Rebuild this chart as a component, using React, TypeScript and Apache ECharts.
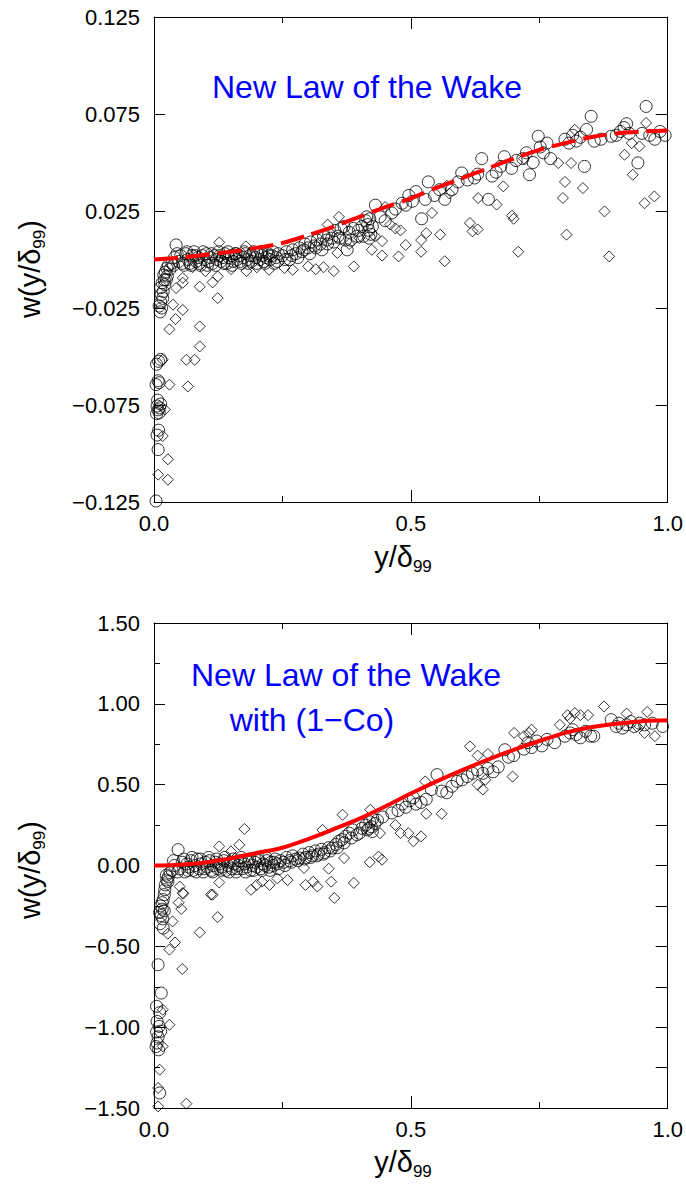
import React, { useEffect, useRef } from 'react';
import * as echarts from 'echarts';

// ---------- data ----------
const topCircles: number[][] = [
  [0.004,-0.1245],[0.008,-0.098],[0.006,-0.0905],[0.009,-0.088],[0.005,-0.0795],[0.008,-0.0775],[0.011,-0.0765],[0.006,-0.0755],[0.010,-0.079],[0.013,-0.0745],[0.007,-0.0725],[0.004,-0.0645],[0.010,-0.0635],[0.008,-0.0625],[0.005,-0.054],[0.009,-0.0525],[0.013,-0.0515],
  [0.012,-0.027],[0.015,-0.025],[0.010,-0.024],[0.013,-0.022],[0.017,-0.020],[0.014,-0.018],[0.018,-0.0165],[0.013,-0.0145],[0.016,-0.012],[0.020,-0.0105],[0.019,-0.008],[0.022,-0.0065],[0.025,-0.0045],[0.028,-0.003],[0.021,-0.013],[0.026,-0.0085],[0.031,-0.005],[0.024,-0.0105],
  [0.035,-0.002],[0.040,0.001],[0.043,0.0075],[0.048,-0.001],[0.052,0.002],[0.058,-0.003],[0.062,0.003],[0.066,0.000],[0.070,-0.002],[0.074,0.002],[0.078,0.004],[0.082,-0.001],[0.086,0.001],[0.090,-0.003],[0.094,0.002],[0.098,0.000],[0.102,0.003],[0.106,-0.001],[0.110,0.001],[0.114,-0.002],[0.118,0.002],[0.122,0.000],[0.126,0.004],[0.130,-0.001],[0.134,0.001],[0.138,0.003],[0.142,-0.002],[0.146,0.001],[0.150,0.002],[0.154,-0.001],[0.158,0.003],[0.162,0.000],[0.166,0.002],[0.170,-0.002],[0.174,0.001],[0.178,0.003],[0.182,0.000],[0.186,0.002],[0.190,-0.001],[0.194,0.004],[0.198,0.001],[0.202,0.003],[0.206,0.000],[0.210,0.002],[0.214,-0.001],[0.218,0.001],[0.222,0.003],[0.226,0.000],[0.230,0.002],[0.234,-0.002],[0.238,0.001],[0.242,0.003],
  [0.038,-0.003],[0.045,0.003],[0.055,-0.002],[0.064,0.004],[0.072,-0.003],[0.080,0.002],[0.088,-0.002],[0.096,0.004],[0.104,-0.003],[0.112,0.003],[0.120,-0.003],[0.128,0.002],[0.136,-0.002],[0.144,0.004],[0.152,-0.003],[0.160,0.003],[0.168,-0.001],[0.176,0.004],[0.184,-0.002],[0.192,0.002],[0.200,-0.002],[0.208,0.004],[0.216,-0.002],[0.224,0.002],[0.232,0.004],[0.240,-0.001],
  [0.250,0.002],[0.258,0.004],[0.264,0.000],[0.270,0.005],[0.276,0.003],[0.283,0.006],[0.288,0.004],[0.294,0.008],[0.300,0.006],[0.305,0.009],[0.312,0.007],[0.318,0.010],[0.324,0.008],[0.330,0.012],[0.336,0.010],[0.340,0.013],[0.346,0.011],[0.352,0.015],[0.358,0.012],[0.364,0.016],[0.370,0.017],[0.373,0.010],[0.376,0.005],[0.380,0.014],[0.388,0.016],[0.395,0.012],[0.405,0.017],[0.412,0.020],[0.416,0.018],[0.418,0.015],[0.420,0.021],[0.422,0.013],[0.425,0.017],[0.431,0.028],[0.440,0.022],[0.450,0.020],[0.463,0.024],[0.470,0.026],[0.483,0.029],[0.490,0.028],[0.496,0.033],[0.503,0.030],[0.510,0.035],[0.521,0.021],[0.528,0.031],[0.534,0.040],[0.546,0.033],[0.556,0.036],[0.566,0.031],[0.580,0.036],[0.592,0.040],[0.599,0.0446],[0.610,0.041],[0.624,0.042],[0.630,0.044],[0.638,0.052],[0.651,0.031],[0.658,0.043],[0.666,0.045],[0.675,0.048],[0.682,0.053],[0.696,0.047],[0.705,0.051],[0.718,0.052],[0.725,0.055],[0.731,0.0437],[0.738,0.050],[0.748,0.0635],[0.752,0.058],[0.758,0.055],[0.765,0.060],[0.772,0.052],[0.800,0.062],[0.808,0.060],[0.815,0.064],[0.822,0.061],[0.830,0.063],[0.838,0.048],[0.842,0.067],[0.851,0.0738],[0.857,0.061],[0.870,0.062],[0.890,0.0635],[0.900,0.064],[0.908,0.066],[0.915,0.068],[0.920,0.070],[0.925,0.065],[0.942,0.0498],[0.950,0.065],[0.958,0.0789],[0.965,0.064],[0.975,0.062],[0.985,0.066],[0.995,0.064],
  [0.255,0.000],[0.268,0.002],[0.280,0.001],[0.292,0.005],[0.303,0.003],[0.315,0.006],[0.327,0.005],[0.338,0.008],[0.350,0.009],[0.362,0.011],[0.383,0.010],[0.398,0.015],[0.408,0.012],[0.414,0.022],[0.419,0.011]
];

const topDiamonds: number[][] = [
  [0.008,-0.1109],[0.027,-0.1135],[0.027,-0.103],[0.017,-0.091],[0.021,-0.0774],[0.030,-0.0645],[0.066,-0.0654],[0.017,-0.0517],[0.063,-0.0517],[0.079,-0.0517],[0.089,-0.0448],[0.089,-0.0345],[0.030,-0.036],[0.042,-0.0307],[0.056,-0.026],[0.037,-0.0233],[0.124,-0.0199],[0.089,-0.014],[0.114,-0.0118],[0.056,-0.012],[0.043,-0.0147],
  [0.127,0.0088],[0.179,0.0068],[0.100,-0.006],[0.124,-0.0087],[0.056,-0.0095],[0.075,-0.004],[0.150,-0.005],[0.180,-0.006],[0.200,-0.004],[0.224,-0.0053],[0.254,-0.0044],[0.270,-0.0053],[0.300,-0.0035],[0.315,-0.005],[0.330,-0.004],[0.350,-0.006],[0.338,0.018],[0.360,0.022],[0.357,0.0034],[0.389,-0.0036],[0.424,0.005],[0.444,0.002],[0.444,0.0095],[0.476,0.0016],[0.470,0.016],[0.480,0.015],[0.490,0.0075],[0.520,0.010],[0.520,0.004],[0.530,0.0136],[0.541,0.024],[0.557,0.0128],[0.566,-0.0009],[0.615,0.0188],[0.620,0.0145],[0.630,0.0155],[0.631,0.0317],[0.667,0.0283],[0.680,0.0377],[0.697,0.0226],[0.700,0.021],[0.709,0.004],[0.787,0.0497],[0.800,0.040],[0.796,0.0317],[0.803,0.0128],[0.812,0.0497],[0.819,0.0669],[0.835,0.0368],[0.877,0.0248],[0.886,0.0016],[0.916,0.054],[0.932,0.0437],[0.945,0.0583],[0.955,0.029],[0.974,0.0325],[0.958,0.0704],[0.930,0.060],[0.570,0.038],[0.575,0.034],[0.450,0.027],[0.400,0.011],[0.380,0.008],[0.430,0.012],[0.460,0.018],[0.720,0.052]
];

const topCurveX: number[] = [0, 0.05, 0.1, 0.15, 0.2, 0.25, 0.3, 0.35, 0.4, 0.45, 0.5, 0.55, 0.6, 0.65, 0.7, 0.75, 0.8, 0.85, 0.9, 0.95, 1.0];
const topCurveY: number[] = [0.0, 0.001, 0.0025, 0.004, 0.006, 0.0085, 0.0125, 0.017, 0.022, 0.027, 0.0315, 0.037, 0.042, 0.047, 0.052, 0.0565, 0.060, 0.063, 0.065, 0.066, 0.0665];

const bottomCircles: number[][] = [
  [0.008,-0.614],[0.014,-0.789],[0.005,-0.871],[0.011,-0.91],[0.006,-0.964],[0.010,-0.995],[0.005,-1.03],[0.013,-1.025],[0.008,-1.06],[0.006,-1.098],[0.009,-1.14],[0.004,-1.12],[0.011,-1.407],
  [0.021,-0.15],[0.018,-0.211],[0.013,-0.25],[0.016,-0.27],[0.011,-0.29],[0.014,-0.31],[0.018,-0.387],[0.017,-0.33],[0.012,-0.36],[0.020,-0.18],[0.016,-0.23],[0.022,-0.12],[0.025,-0.09],[0.028,-0.07],[0.024,-0.06],[0.031,-0.045],[0.027,-0.10],[0.020,-0.28],
  [0.035,-0.03],[0.040,0.00],[0.047,0.098],[0.050,-0.02],[0.055,0.02],[0.060,-0.04],[0.064,0.01],[0.068,-0.01],[0.072,0.03],[0.076,-0.03],[0.080,0.00],[0.084,0.04],[0.088,-0.02],[0.092,0.01],[0.096,-0.04],[0.100,0.02],[0.104,-0.01],[0.108,0.03],[0.112,-0.03],[0.116,0.00],[0.120,0.02],[0.124,-0.02],[0.128,0.01],[0.132,-0.01],[0.136,0.03],[0.140,-0.03],[0.144,0.00],[0.148,0.02],[0.152,-0.02],[0.156,0.01],[0.160,-0.04],[0.164,0.00],[0.168,0.03],[0.172,-0.02],[0.176,0.01],[0.180,-0.01],[0.184,0.02],[0.188,-0.03],[0.192,0.00],[0.196,0.02],[0.200,-0.01],[0.204,0.03],[0.208,-0.02],[0.212,0.01],[0.216,0.00],[0.220,0.03],[0.224,-0.01],[0.228,0.02],[0.232,0.00],[0.236,0.04],[0.240,0.01],[0.246,0.03],
  [0.038,0.03],[0.046,-0.04],[0.058,0.04],[0.066,-0.03],[0.074,0.05],[0.082,-0.04],[0.090,0.04],[0.098,-0.02],[0.106,0.05],[0.114,-0.04],[0.122,0.04],[0.130,-0.03],[0.138,0.05],[0.146,-0.04],[0.154,0.04],[0.162,-0.02],[0.170,0.05],[0.178,-0.04],[0.186,0.04],[0.194,-0.03],[0.202,0.05],[0.210,-0.03],[0.218,0.05],[0.226,-0.03],[0.234,0.02],[0.242,-0.02],
  [0.252,0.02],[0.258,0.05],[0.264,0.03],[0.270,0.06],[0.276,0.04],[0.283,0.046],[0.290,0.07],[0.296,0.05],[0.302,0.08],[0.308,0.06],[0.314,0.09],[0.320,0.07],[0.326,0.10],[0.332,0.08],[0.340,0.11],[0.347,0.108],[0.354,0.13],[0.360,0.15],[0.366,0.16],[0.373,0.18],[0.380,0.20],[0.387,0.22],[0.395,0.19],[0.405,0.23],[0.412,0.25],[0.416,0.22],[0.420,0.27],[0.423,0.24],[0.426,0.29],[0.430,0.26],[0.435,0.28],[0.445,0.30],[0.463,0.325],[0.475,0.34],[0.483,0.38],[0.490,0.36],[0.497,0.40],[0.505,0.42],[0.510,0.38],[0.520,0.39],[0.530,0.41],[0.540,0.47],[0.551,0.562],[0.560,0.46],[0.570,0.45],[0.580,0.49],[0.590,0.52],[0.600,0.53],[0.610,0.55],[0.620,0.57],[0.630,0.59],[0.640,0.57],[0.650,0.60],[0.660,0.58],[0.670,0.61],[0.683,0.716],[0.690,0.67],[0.700,0.68],[0.720,0.72],[0.728,0.76],[0.735,0.73],[0.745,0.77],[0.755,0.74],[0.765,0.78],[0.780,0.76],[0.800,0.80],[0.810,0.82],[0.815,0.84],[0.822,0.81],[0.830,0.79],[0.840,0.83],[0.850,0.80],[0.856,0.80],[0.890,0.902],[0.900,0.86],[0.905,0.88],[0.912,0.85],[0.920,0.87],[0.928,0.89],[0.935,0.86],[0.945,0.88],[0.955,0.87],[0.970,0.88],[0.990,0.86],
  [0.255,0.00],[0.267,0.02],[0.280,0.03],[0.293,0.04],[0.305,0.05],[0.317,0.06],[0.330,0.07],[0.343,0.09],[0.357,0.11],[0.370,0.14],[0.384,0.17],[0.400,0.20],[0.418,0.23],[0.425,0.21]
];

const bottomDiamonds: number[][] = [
  [0.011,-1.263],[0.008,-1.376],[0.008,-1.49],[0.063,-1.473],[0.017,-0.892],[0.030,-0.985],[0.017,-1.119],[0.055,-0.64],[0.030,-0.52],[0.041,-0.476],[0.027,-0.422],[0.036,-0.346],[0.053,-0.269],[0.057,-0.174],[0.048,-0.23],[0.089,-0.414],[0.124,-0.319],[0.114,-0.181],[0.127,-0.105],[0.189,-0.15],[0.200,-0.12],[0.210,-0.10],[0.225,-0.12],[0.240,-0.08],[0.295,-0.12],[0.310,-0.10],[0.351,-0.201],
  [0.176,0.226],[0.127,0.118],[0.166,0.128],[0.150,0.087],[0.050,-0.13],[0.056,-0.17],[0.111,-0.18],[0.260,-0.09],[0.292,-0.015],[0.318,-0.13],[0.340,-0.02],[0.345,-0.10],[0.367,0.314],[0.370,0.046],[0.328,0.22],[0.389,-0.108],[0.420,0.02],[0.437,0.055],[0.444,0.036],[0.440,0.20],[0.421,0.345],[0.470,0.25],[0.480,0.20],[0.495,0.20],[0.505,0.15],[0.520,0.18],[0.530,0.32],[0.560,0.32],[0.528,0.52],[0.615,0.737],[0.630,0.68],[0.650,0.69],[0.630,0.50],[0.640,0.47],[0.645,0.53],[0.698,0.55],[0.701,0.82],[0.720,0.80],[0.730,0.82],[0.735,0.84],[0.790,0.87],[0.805,0.93],[0.810,0.91],[0.819,0.943],[0.830,0.93],[0.845,0.93],[0.876,0.984],[0.920,0.94],[0.960,0.95],[0.955,0.82],[0.975,0.80],[0.940,0.86]
];

const bottomCurveX: number[] = [0, 0.05, 0.1, 0.15, 0.2, 0.25, 0.3, 0.35, 0.4, 0.45, 0.5, 0.55, 0.6, 0.65, 0.7, 0.75, 0.8, 0.85, 0.9, 0.95, 1.0];
const bottomCurveY: number[] = [0.0, 0.005, 0.019, 0.045, 0.077, 0.11, 0.163, 0.225, 0.29, 0.365, 0.445, 0.52, 0.59, 0.655, 0.715, 0.77, 0.82, 0.855, 0.877, 0.893, 0.898];

const topYTicks: number[] = [-0.125, -0.075, -0.025, 0.025, 0.075, 0.125];
const topYRightTicks: number[] = [-0.075, -0.025, 0.025, 0.075];
const xLabelDigits = 1;
const topTitle = 'New Law of the Wake';
const bottomTitle1 = 'New Law of the Wake';
const bottomTitle2 = 'with (1\u2212Co)';

// ---------- styling ----------
const FONT = 'Liberation Sans, Arial, sans-serif';
const BLACK = '#000';

const fmtSigned = (v: number, d: number) => (v < 0 ? '\u2212' : '') + Math.abs(v).toFixed(d);

function xAxisCfg(gridIndex: number, position: 'bottom' | 'top', showLabel: boolean) {
  return {
    type: 'value', gridIndex, position, min: 0, max: 1, interval: 0.5,
    axisLine: { show: true, onZero: false, lineStyle: { color: BLACK, width: 1 } },
    axisTick: { show: true, inside: true, length: 12, lineStyle: { color: BLACK, width: 1 } },
    minorTick: { show: true, splitNumber: 2, length: 6, lineStyle: { color: BLACK, width: 1 } },
    splitLine: { show: false }, minorSplitLine: { show: false },
    axisLabel: { show: showLabel, margin: 10, fontSize: 22, fontFamily: FONT, color: BLACK,
      formatter: (v: number) => v.toFixed(xLabelDigits) },
  };
}

const App: React.FC = () => {
  const ref = useRef<HTMLDivElement>(null);
  useEffect(() => {
    document.body.style.margin = '0';
    if (!ref.current) return;
    const chart = echarts.init(ref.current, null, { renderer: 'svg' });
    const scatterStyle = { color: 'rgba(0,0,0,0)', borderColor: BLACK, borderWidth: 1 };
    const sub = (main: string, tail: string) => `{a|${main}}{s|99}{a|${tail}}`;
    const richT = {
      a: { fontSize: 29, lineHeight: 36, fontFamily: FONT, fill: BLACK, color: BLACK },
      s: { fontSize: 17, lineHeight: 17, verticalAlign: 'bottom', fontFamily: FONT, fill: BLACK, color: BLACK },
    };
    const blueText = (text: string, x: number, y: number) => ({
      type: 'text', x, y, z: 10,
      style: { text, fill: '#0000ff', fontSize: 32, fontFamily: FONT,
        textAlign: 'center', textVerticalAlign: 'middle', align: 'center', verticalAlign: 'middle' },
    });
    const axisTitle = (text: string, x: number, y: number, rotation: number) => ({
      type: 'text', x, y, rotation, z: 10,
      style: { text, rich: richT, textAlign: 'center', textVerticalAlign: 'middle', align: 'center', verticalAlign: 'middle' },
    });

    chart.setOption({
      animation: false,
      backgroundColor: '#fff',
      grid: [
        { left: 154, top: 17, width: 516, height: 485 },
        { left: 154, top: 623, width: 516, height: 485 },
      ],
      xAxis: [
        xAxisCfg(0, 'bottom', true),
        xAxisCfg(0, 'top', false),
        xAxisCfg(1, 'bottom', true),
        xAxisCfg(1, 'top', false),
      ],
      yAxis: [
        {
          type: 'value', gridIndex: 0, position: 'left', min: -0.125, max: 0.125,
          axisLine: { show: true, onZero: false, lineStyle: { color: BLACK, width: 1 } },
          axisTick: { show: true, inside: true, length: 11, customValues: topYTicks, lineStyle: { color: BLACK, width: 1 } },
          splitLine: { show: false },
          axisLabel: { show: true, customValues: topYTicks, margin: 14, fontSize: 22, fontFamily: FONT, color: BLACK,
            formatter: (v: number) => fmtSigned(v, 3) },
        },
        {
          type: 'value', gridIndex: 0, position: 'right', min: -0.125, max: 0.125,
          axisLine: { show: true, onZero: false, lineStyle: { color: BLACK, width: 1 } },
          axisTick: { show: true, inside: true, length: 12, customValues: topYRightTicks, lineStyle: { color: BLACK, width: 1 } },
          splitLine: { show: false },
          axisLabel: { show: false, customValues: topYRightTicks },
        },
        {
          type: 'value', gridIndex: 1, position: 'left', min: -1.5, max: 1.5, interval: 0.5,
          axisLine: { show: true, onZero: false, lineStyle: { color: BLACK, width: 1 } },
          axisTick: { show: true, inside: true, length: 11, lineStyle: { color: BLACK, width: 1 } },
          minorTick: { show: true, splitNumber: 2, length: 6, lineStyle: { color: BLACK, width: 1 } },
          splitLine: { show: false }, minorSplitLine: { show: false },
          axisLabel: { show: true, margin: 14, fontSize: 22, fontFamily: FONT, color: BLACK,
            formatter: (v: number) => fmtSigned(v, 2) },
        },
        {
          type: 'value', gridIndex: 1, position: 'right', min: -1.5, max: 1.5, interval: 0.25,
          axisLine: { show: true, onZero: false, lineStyle: { color: BLACK, width: 1 } },
          axisTick: { show: true, inside: true, length: 12, lineStyle: { color: BLACK, width: 1 } },
          splitLine: { show: false },
          axisLabel: { show: false },
        },
      ],
      series: [
        { type: 'scatter', xAxisIndex: 0, yAxisIndex: 0, symbol: 'circle', symbolSize: 12, itemStyle: scatterStyle, data: topCircles, z: 2 },
        { type: 'scatter', xAxisIndex: 0, yAxisIndex: 0, symbol: 'diamond', symbolSize: 11, itemStyle: scatterStyle, data: topDiamonds, z: 2 },
        { type: 'line', xAxisIndex: 0, yAxisIndex: 0, smooth: 0.3, symbol: 'none', z: 3,
          lineStyle: { color: '#ff0000', width: 4, type: [24, 8] },
          data: topCurveX.map((x, i) => [x, topCurveY[i]]) },
        { type: 'scatter', xAxisIndex: 2, yAxisIndex: 2, symbol: 'circle', symbolSize: 12, itemStyle: scatterStyle, data: bottomCircles, z: 2 },
        { type: 'scatter', xAxisIndex: 2, yAxisIndex: 2, symbol: 'diamond', symbolSize: 11, itemStyle: scatterStyle, data: bottomDiamonds, z: 2 },
        { type: 'line', xAxisIndex: 2, yAxisIndex: 2, smooth: 0.3, symbol: 'none', z: 3,
          lineStyle: { color: '#ff0000', width: 4 },
          data: bottomCurveX.map((x, i) => [x, bottomCurveY[i]]) },
      ],
      graphic: [
        blueText(topTitle, 367, 87),
        blueText(bottomTitle1, 346, 675),
        blueText(bottomTitle2, 312, 720),
        axisTitle(sub('w(y/\u03b4', ')'), 30, 269, Math.PI / 2),
        axisTitle(sub('w(y/\u03b4', ')'), 30, 870, Math.PI / 2),
        axisTitle(sub('y/\u03b4', ''), 403, 557, 0),
        axisTitle(sub('y/\u03b4', ''), 403, 1162, 0),
      ],
    });
    return () => chart.dispose();
  }, []);
  return <div ref={ref} style={{ width: 686, height: 1185 }} />;
};

export default App;
